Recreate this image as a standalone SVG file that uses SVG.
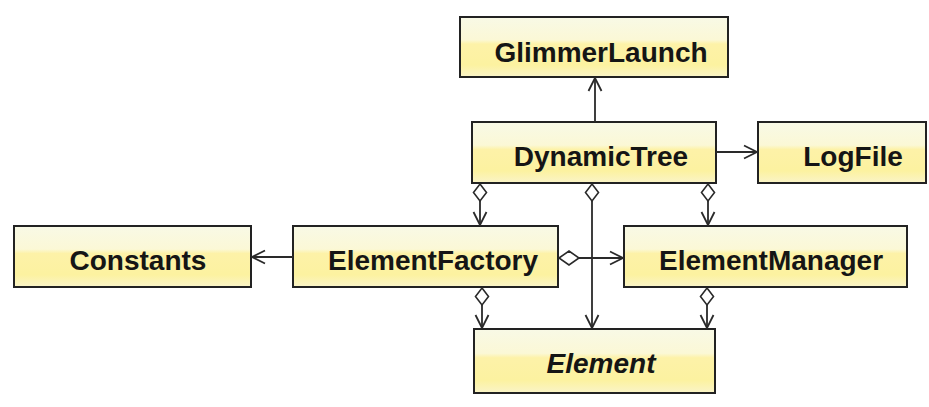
<svg xmlns="http://www.w3.org/2000/svg" width="929" height="407" viewBox="0 0 929 407">
<style>
.box{fill:url(#g);stroke:#222;stroke-width:2}
.t{font-family:"Liberation Sans",Arial,sans-serif;font-weight:bold;font-size:28px;fill:#151515;text-anchor:middle}
.i{font-style:italic}
.c{fill:none;stroke:#2a2a2a;stroke-width:1.8}
.d{fill:#fff;stroke:#2a2a2a;stroke-width:1.6}
</style>
<defs>
<linearGradient id="g" x1="0" y1="0" x2="0" y2="1">
<stop offset="0" stop-color="#f8f9e6"/>
<stop offset="0.38" stop-color="#fbf8d6"/>
<stop offset="0.45" stop-color="#fdf2a8"/>
<stop offset="0.8" stop-color="#fcf2a0"/>
<stop offset="1" stop-color="#faf4c8"/>
</linearGradient>
<marker id="a" viewBox="0 0 16 16" refX="15" refY="8" markerWidth="16" markerHeight="16" markerUnits="userSpaceOnUse" orient="auto">
<path d="M2,1.5 L15,8 L2,14.5" fill="none" stroke="#2a2a2a" stroke-width="1.8"/>
</marker>
</defs>
<rect width="929" height="407" fill="#fff"/>
<g id="GlimmerLaunch"><rect class="box" x="460" y="17" width="268" height="60"/><text class="t" x="601" y="62">GlimmerLaunch</text></g>
<g id="DynamicTree"><rect class="box" x="472" y="122" width="244" height="61"/><text class="t" x="601" y="166">DynamicTree</text></g>
<g id="LogFile"><rect class="box" x="758" y="122" width="168" height="61"/><text class="t" x="853" y="166">LogFile</text></g>
<g id="Constants"><rect class="box" x="14" y="226" width="237" height="61"/><text class="t" x="138" y="270">Constants</text></g>
<g id="ElementFactory"><rect class="box" x="293" y="226" width="265" height="61"/><text class="t" x="433" y="270">ElementFactory</text></g>
<g id="ElementManager"><rect class="box" x="624" y="226" width="283" height="61"/><text class="t" x="771" y="270">ElementManager</text></g>
<g id="Element"><rect class="box" x="474" y="329" width="241" height="64"/><text class="t i" x="601" y="373">Element</text></g>
<g id="connectors">
<line class="c" x1="595" y1="122" x2="595" y2="78" marker-end="url(#a)"/>
<line class="c" x1="716" y1="152" x2="757" y2="152" marker-end="url(#a)"/>
<line class="c" x1="293" y1="257" x2="252" y2="257" marker-end="url(#a)"/>
<line class="c" x1="480" y1="200" x2="480" y2="225" marker-end="url(#a)"/>
<path class="d" d="M480,184 L486.5,192.5 L480,201 L473.5,192.5 Z"/>
<line class="c" x1="592" y1="200" x2="592" y2="328" marker-end="url(#a)"/>
<path class="d" d="M592,184 L598.5,192.5 L592,201 L585.5,192.5 Z"/>
<line class="c" x1="708" y1="200" x2="708" y2="225" marker-end="url(#a)"/>
<path class="d" d="M708,184 L714.5,192.5 L708,201 L701.5,192.5 Z"/>
<line class="c" x1="579" y1="258" x2="623" y2="258" marker-end="url(#a)"/>
<path class="d" d="M559,258 L569,251 L579,258 L569,265 Z"/>
<line class="c" x1="482" y1="304" x2="482" y2="328" marker-end="url(#a)"/>
<path class="d" d="M482,288 L488.5,296.5 L482,305 L475.5,296.5 Z"/>
<line class="c" x1="707" y1="304" x2="707" y2="328" marker-end="url(#a)"/>
<path class="d" d="M707,288 L713.5,296.5 L707,305 L700.5,296.5 Z"/>
</g>
</svg>
